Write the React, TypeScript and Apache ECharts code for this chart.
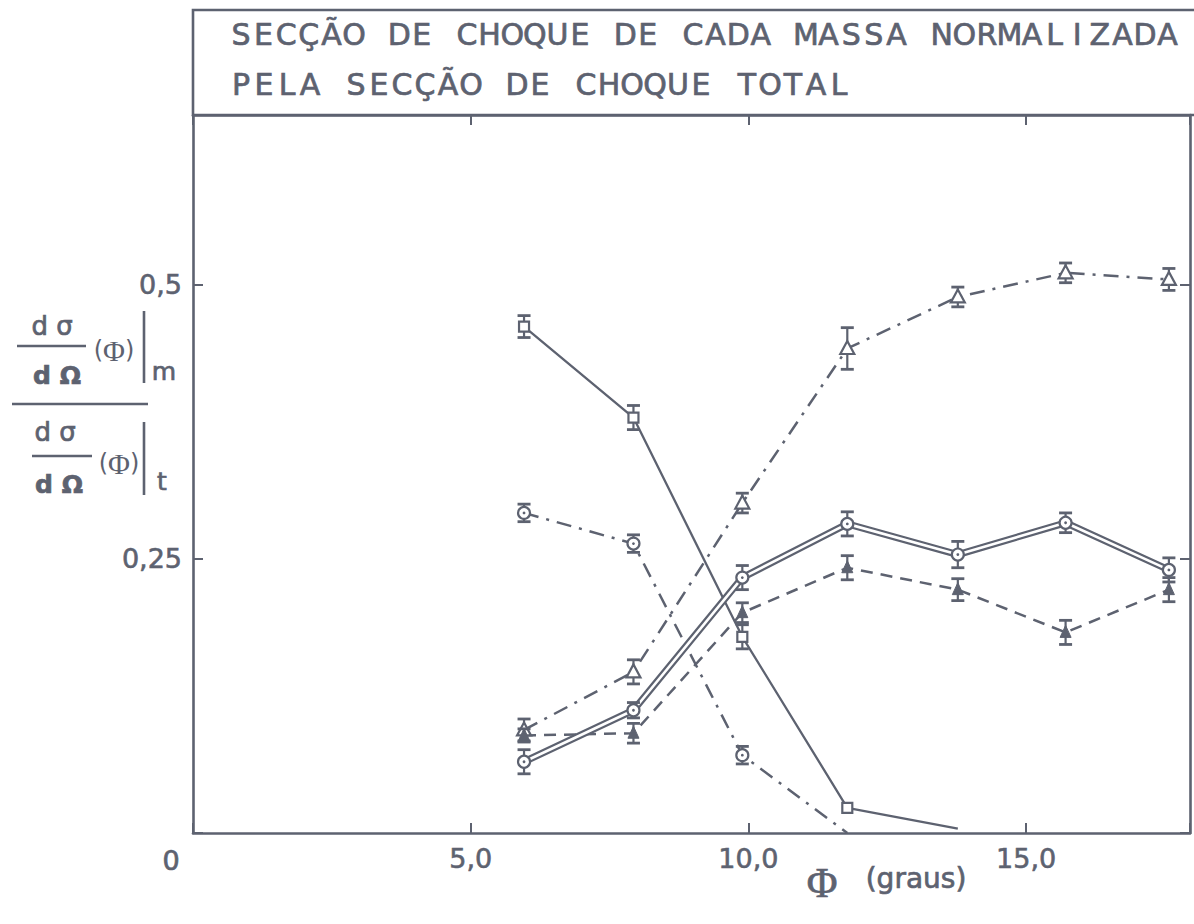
import React, { useEffect, useRef } from 'react';
import * as echarts from 'echarts';

const INK = '#5d6270';
const FONT = '"DejaVu Sans", "Liberation Sans", sans-serif';
const SERIF = '"Liberation Serif", "DejaVu Serif", serif';

// Scattering angle (graus) of each measured column
const phi = [5.96, 7.93, 9.89, 11.78, 13.77, 15.71, 17.57];

// Normalised cross-section per mass; *Err = half-height of the error bar (null = no marker)
const squareVals = [0.462, 0.379, 0.179, 0.023, 0.004];
const squareErr = [0.010, 0.011, 0.011, 0, null];

const circleFallVals = [0.292, 0.264, 0.071, 0.0];
const circleFallErr = [0.008, 0.008, 0.008, null];

const openTriVals = [0.094, 0.147, 0.301, 0.442, 0.489, 0.511, 0.505];
const openTriErr = [0.010, 0.011, 0.009, 0.019, 0.009, 0.009, 0.010];

const doubleCircVals = [0.065, 0.112, 0.233, 0.282, 0.254, 0.283, 0.240];
const doubleCircErr = [0.011, 0.007, 0.011, 0.011, 0.012, 0.009, 0.011];

const filledTriVals = [0.089, 0.091, 0.201, 0.242, 0.222, 0.183, 0.222];
const filledTriErr = [0.006, 0.009, 0.009, 0.011, 0.010, 0.011, 0.011];

// Axes
const X_MAX = 17.95;
const Y_MAX = 0.655;
const xTickValues = [0, 5, 10, 15];
const xTickLabels = ['0', '5,0', '10,0', '15,0'];
const yTickValues = [0.25, 0.5];
const yTickLabels = ['0,25', '0,5'];

const titleLines = [
  'SECÇÃO DE CHOQUE DE CADA MASSA NORMALIZADA',
  'PELA SECÇÃO DE CHOQUE TOTAL',
];

type MarkerKind = 'square' | 'circleDot' | 'openTri' | 'filledTri';

function lineData(vals: number[]) {
  return vals.map((v, i) => [phi[i], v]);
}

function markerData(vals: number[], errs: (number | null)[]) {
  const out: number[][] = [];
  vals.forEach((v, i) => {
    const e = errs[i];
    if (e !== null && e !== undefined) out.push([phi[i], v, e]);
  });
  return out;
}

function markerRenderer(kind: MarkerKind) {
  return (_params: any, api: any) => {
    const x = api.value(0);
    const y = api.value(1);
    const e = api.value(2);
    const p = api.coord([x, y]);
    const children: any[] = [];
    if (e > 0) {
      const t = api.coord([x, y + e]);
      const b = api.coord([x, y - e]);
      children.push({ type: 'line', shape: { x1: p[0], y1: t[1], x2: p[0], y2: b[1] }, style: { stroke: INK, lineWidth: 2.2 } });
      children.push({ type: 'line', shape: { x1: p[0] - 6.5, y1: t[1], x2: p[0] + 6.5, y2: t[1] }, style: { stroke: INK, lineWidth: 2.8 } });
      children.push({ type: 'line', shape: { x1: p[0] - 6.5, y1: b[1], x2: p[0] + 6.5, y2: b[1] }, style: { stroke: INK, lineWidth: 2.8 } });
    }
    const hollow = { fill: '#ffffff', stroke: INK, lineWidth: 2.2 };
    if (kind === 'square') {
      children.push({ type: 'rect', shape: { x: p[0] - 5, y: p[1] - 5, width: 10, height: 10 }, style: hollow });
    } else if (kind === 'circleDot') {
      children.push({ type: 'circle', shape: { cx: p[0], cy: p[1], r: 6 }, style: hollow });
      children.push({ type: 'circle', shape: { cx: p[0], cy: p[1], r: 1.4 }, style: { fill: INK } });
    } else if (kind === 'openTri') {
      children.push({
        type: 'polygon',
        shape: { points: [[p[0], p[1] - 7.5], [p[0] - 7, p[1] + 5.5], [p[0] + 7, p[1] + 5.5]] },
        style: hollow,
      });
    } else {
      children.push({
        type: 'polygon',
        shape: { points: [[p[0], p[1] - 7], [p[0] - 5.5, p[1] + 5], [p[0] + 5.5, p[1] + 5]] },
        style: { fill: INK, stroke: INK, lineWidth: 1 },
      });
    }
    return { type: 'group', children };
  };
}

// Pen-drawn lettering: a thin outline thickens the glyph strokes
function txt(text: string, x: number, y: number, size: number, align = 'center', weight = 'normal', family = FONT) {
  return {
    type: 'text',
    x,
    y,
    silent: true,
    style: {
      text,
      fill: INK,
      stroke: INK,
      lineWidth: 0.7,
      font: `${weight} ${size}px ${family}`,
      align,
      verticalAlign: 'middle',
      textAlign: align,
      textVerticalAlign: 'middle',
    },
  };
}

// "(Φ)" with a serif capital phi
function phiArg(x: number, y: number) {
  return {
    type: 'text',
    x,
    y,
    silent: true,
    style: {
      text: '{p|(}{f|Φ}{p|)}',
      align: 'center',
      verticalAlign: 'middle',
      textAlign: 'center',
      textVerticalAlign: 'middle',
      rich: {
        p: { fill: INK, color: INK, fontSize: 24, fontFamily: FONT },
        f: { fill: INK, color: INK, fontSize: 30, fontFamily: SERIF },
      },
    },
  };
}

function seg(x1: number, y1: number, x2: number, y2: number, w = 2.6) {
  return { type: 'line', silent: true, shape: { x1, y1, x2, y2 }, style: { stroke: INK, lineWidth: w } };
}

export default function App() {
  const ref = useRef<HTMLDivElement>(null);

  useEffect(() => {
    if (!ref.current) return;
    const chart = echarts.init(ref.current, null, { renderer: 'svg' });

    // Title lettering: fixed-advance characters, like stencil lettering
    const titleEls: any[] = [];
    const titleStarts = [{ x: 241, y: 34, adv: 22.6 }, { x: 241, y: 84, adv: 23.0 }];
    titleLines.forEach((line, li) => {
      const { x, y, adv } = titleStarts[li];
      Array.from(line).forEach((c, i) => {
        if (c !== ' ') titleEls.push(txt(c, x + i * adv, y, 30));
      });
    });

    const xFmt = (v: number) => {
      const i = xTickValues.findIndex((t) => Math.abs(t - v) < 1e-6);
      return i > 0 ? xTickLabels[i] : '';
    };
    const yFmt = (v: number) => {
      const i = yTickValues.findIndex((t) => Math.abs(t - v) < 1e-6);
      return i >= 0 ? yTickLabels[i] : '';
    };

    const axisLine = { show: true, onZero: false, lineStyle: { color: INK, width: 2.6 } };
    const axisTick = { show: true, inside: true, length: 10, lineStyle: { color: INK, width: 2 } };
    const tickLabel = {
      color: INK, fontSize: 27, fontFamily: FONT, textBorderColor: INK, textBorderWidth: 0.6,
    };

    const option: any = {
      animation: false,
      backgroundColor: '#ffffff',
      grid: { left: 193, right: 4, top: 115, bottom: 91 },
      xAxis: [
        {
          type: 'value', min: 0, max: X_MAX, interval: 5, position: 'bottom',
          axisLine, axisTick,
          axisLabel: { ...tickLabel, formatter: xFmt, margin: 12 },
          splitLine: { show: false },
        },
        {
          type: 'value', min: 0, max: X_MAX, interval: 5, position: 'top',
          axisLine, axisTick, axisLabel: { show: false }, splitLine: { show: false },
        },
      ],
      yAxis: [
        {
          type: 'value', min: 0, max: Y_MAX, interval: 0.25, position: 'left',
          axisLine, axisTick,
          axisLabel: { ...tickLabel, formatter: yFmt, margin: 11 },
          splitLine: { show: false },
        },
        {
          type: 'value', min: 0, max: Y_MAX, interval: 0.25, position: 'right',
          axisLine, axisTick, axisLabel: { show: false }, splitLine: { show: false },
        },
      ],
      graphic: [
        // title box
        {
          type: 'rect', silent: true,
          shape: { x: 193, y: 10, width: 1020, height: 105 },
          style: { fill: 'none', stroke: INK, lineWidth: 2.6 },
        },
        ...titleEls,
        // origin label
        txt('0', 171, 860, 27),
        // x-axis title
        txt('Φ', 822, 883, 42, 'center', 'normal', SERIF),
        txt('(graus)', 916, 878, 28),
        // y-axis title: ratio of the two differential cross-sections
        txt('d σ', 52, 326, 26),
        seg(17, 346, 86, 346),
        txt('d Ω', 57, 375, 25, 'center', 'bold'),
        phiArg(114, 350),
        seg(144, 311, 144, 383),
        txt('m', 164, 371, 25),
        seg(12, 404, 148, 404),
        txt('d σ', 55, 432, 26),
        seg(32, 456, 92, 456),
        txt('d Ω', 59, 484, 25, 'center', 'bold'),
        phiArg(119, 463),
        seg(144, 422, 144, 495),
        txt('t', 162, 481, 25),
      ],
      series: [
        {
          type: 'line', data: lineData(squareVals), symbol: 'none', silent: true, z: 2,
          lineStyle: { color: INK, width: 2.3, type: 'solid' },
        },
        {
          type: 'line', data: lineData(circleFallVals), symbol: 'none', silent: true, z: 2,
          lineStyle: { color: INK, width: 2.5, type: [15, 8, 3, 8] },
        },
        {
          type: 'line', data: lineData(openTriVals), symbol: 'none', silent: true, z: 2,
          lineStyle: { color: INK, width: 2.5, type: [15, 8, 3, 8] },
        },
        {
          type: 'line', data: lineData(doubleCircVals), symbol: 'none', silent: true, z: 2,
          lineStyle: { color: INK, width: 7, type: 'solid' },
        },
        {
          type: 'line', data: lineData(doubleCircVals), symbol: 'none', silent: true, z: 3,
          lineStyle: { color: '#ffffff', width: 2.6, type: 'solid' },
        },
        {
          type: 'line', data: lineData(filledTriVals), symbol: 'none', silent: true, z: 2,
          lineStyle: { color: INK, width: 2.5, type: [12, 8] },
        },
        { type: 'custom', renderItem: markerRenderer('openTri'), data: markerData(openTriVals, openTriErr), z: 5, silent: true, clip: false },
        { type: 'custom', renderItem: markerRenderer('filledTri'), data: markerData(filledTriVals, filledTriErr), z: 5, silent: true, clip: false },
        { type: 'custom', renderItem: markerRenderer('circleDot'), data: markerData(doubleCircVals, doubleCircErr), z: 5, silent: true, clip: false },
        { type: 'custom', renderItem: markerRenderer('circleDot'), data: markerData(circleFallVals, circleFallErr), z: 5, silent: true, clip: false },
        { type: 'custom', renderItem: markerRenderer('square'), data: markerData(squareVals, squareErr), z: 5, silent: true, clip: false },
      ],
    };

    chart.setOption(option);
    return () => chart.dispose();
  }, []);

  return (
    <div
      ref={ref}
      style={{ position: 'absolute', left: 0, top: 0, width: 1194, height: 924, background: '#ffffff' }}
    />
  );
}
